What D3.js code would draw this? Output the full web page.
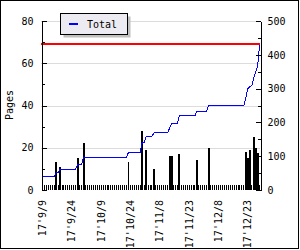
<!DOCTYPE html>
<html>
<head>
<meta charset="utf-8">
<script src="https://cdn.jsdelivr.net/npm/d3@7"></script>
<style>
body { margin: 0; background: #fff; }
text { font-family: "DejaVu Sans Mono", monospace; font-size: 10px; fill: #000; }
</style>
</head>
<body>
<div id="divbody"></div>
<script>
// pages read per day, 17'9/9 .. 17'12/30
var pages = [
  37,0,0,0,0,0,0,13.4,0,10.9,
  0,0,0,0,0,0,0,0,15.1,0,
  0,22.2,0,0,0,0,0,0,0,0,
  0,0,0,0,0,0,0,0,0,0,
  0,0,0,0,13.4,0,0,0,0,0,
  0,27.9,0,18.9,0,0,0,9.9,0,0,
  0,0,0,0,0,16.1,16.1,0,0,0,
  17,0,0,0,0,0,0,0,0,14.2,
  0,0,0,0,0,19.9,0,0,0,0,
  0,0,0,0,0,0,0,0,0,0,
  0,0,0,0,18.1,15,18.9,0,25.2,19.7,
  17.4,0
];
// running total (right axis)
var totals = [
  39,39,39,39,39,39,39,52,52,62,
  62,62,62,62,62,62,62,62,76,76,
  76,97,97,97,97,97,97,97,97,97,
  97,97,97,97,97,97,97,97,97,97,
  97,97,97,97,112,112,112,112,112,112,
  112,140,140,159,159,159,159,169,169,169,
  169,169,169,169,169,183,197,197,197,197,
  220,220,220,220,220,220,220,220,220,233,
  233,233,233,233,233,251,251,251,251,251,
  251,251,251,251,251,251,251,251,251,251,
  251,251,251,251,272,300,306,308,330,348,
  365,429
];
var goal = 432;
var tickDays = [0, 15, 30, 45, 60, 75, 90, 105];
var tickLabels = ["17'9/9", "17'9/24", "17'10/9", "17'10/24", "17'11/8", "17'11/23", "17'12/8", "17'12/23"];
var legendLabel = "Total";

var width = 300, height = 250;
var pLeft = 41, pRight = 260, pTop = 21, pBottom = 190;

var svg = d3.select("#divbody").append("svg")
  .attr("width", width)
  .attr("height", height);

svg.append("rect")
  .attr("width", width).attr("height", height)
  .attr("fill", "#fff");

var x = d3.scaleBand()
  .domain(d3.range(pages.length))
  .range([pLeft + 0.5, pRight + 0.5])
  .padding(0);
var yL = d3.scaleLinear().domain([0, 80]).range([pBottom, pTop]);
var yR = d3.scaleLinear().domain([0, 500]).range([pBottom, pTop]);

// grid
svg.append("g")
  .attr("transform", "translate(" + pLeft + ",0)")
  .attr("shape-rendering", "crispEdges")
  .call(d3.axisLeft(yL).tickValues([20, 40, 60, 80]).tickSize(-(pRight - pLeft)).tickFormat(""))
  .call(function(g) { g.select(".domain").remove(); })
  .selectAll("line").attr("stroke", "#dcdcdc");

// day ticks along the bottom
svg.append("g")
  .attr("transform", "translate(0," + pBottom + ")")
  .attr("shape-rendering", "crispEdges")
  .call(d3.axisBottom(x).tickSize(-5).tickFormat("").tickSizeOuter(0))
  .call(function(g) { g.select(".domain").remove(); });

svg.append("g")
  .attr("shape-rendering", "crispEdges")
  .selectAll("rect")
  .data(pages.map(function(d, i) { return {i: i, v: d}; }).filter(function(d) { return d.v > 0; }))
  .enter()
  .append("rect")
  .attr("x", function(d) { return x(d.i); })
  .attr("y", function(d) { return yL(d.v); })
  .attr("width", x.bandwidth())
  .attr("height", function(d) { return yL(0) - yL(d.v); })
  .attr("fill", "#000");

// goal line
svg.append("line")
  .attr("x1", pLeft).attr("x2", pRight)
  .attr("y1", yR(goal)).attr("y2", yR(goal))
  .attr("stroke", "#ff0000").attr("stroke-width", 2);

var line = d3.line()
  .x(function(d, i) { return x(i) + x.bandwidth() / 2; })
  .y(function(d) { return yR(d); });

svg.append("path")
  .datum(totals)
  .attr("d", line)
  .attr("fill", "none")
  .attr("stroke", "#0000ff")
  .attr("stroke-width", 1)
  .attr("shape-rendering", "crispEdges");

// left axis
var gl = svg.append("g")
  .attr("transform", "translate(" + (pLeft + 0.5) + ",0)")
  .attr("shape-rendering", "crispEdges");
gl.call(d3.axisLeft(yL).tickValues([0, 20, 40, 60, 80]).tickSize(-5).tickSizeOuter(0).tickPadding(8));
gl.append("g").call(d3.axisLeft(yL).tickValues([10, 30, 50, 70]).tickSize(-3).tickFormat("").tickSizeOuter(0))
  .select(".domain").remove();

// right axis
var gr = svg.append("g")
  .attr("transform", "translate(" + (pRight + 0.5) + ",0)")
  .attr("shape-rendering", "crispEdges");
gr.call(d3.axisRight(yR).tickValues([0, 100, 200, 300, 400, 500]).tickSize(-5).tickSizeOuter(0).tickPadding(7));
gr.append("g").call(d3.axisRight(yR).tickValues([50, 150, 250, 350, 450]).tickSize(-3).tickFormat("").tickSizeOuter(0))
  .select(".domain").remove();

// date labels
var gx = svg.append("g")
  .attr("transform", "translate(0," + pBottom + ")")
  .call(d3.axisBottom(x).tickValues(tickDays).tickSize(0).tickFormat(function(d) { return tickLabels[tickDays.indexOf(d)]; }));
gx.select(".domain").remove();
gx.selectAll("text")
  .attr("transform", "rotate(-90)")
  .attr("text-anchor", "end")
  .attr("x", -10)
  .attr("y", 0)
  .attr("dy", "0.35em");

svg.selectAll(".tick text")
  .attr("font-size", 10)
  .attr("font-family", "DejaVu Sans Mono");

svg.append("text")
  .attr("transform", "translate(13,105) rotate(-90)")
  .attr("text-anchor", "middle")
  .text("Pages");

// legend
svg.append("rect")
  .attr("x", 63.5).attr("y", 16.5).attr("width", 67).attr("height", 21)
  .attr("fill", "#c0c0c0");
svg.append("rect")
  .attr("x", 60.5).attr("y", 13.5).attr("width", 67).attr("height", 21)
  .attr("fill", "#ecebf1").attr("stroke", "#000");
svg.append("line")
  .attr("x1", 69).attr("x2", 78).attr("y1", 24).attr("y2", 24)
  .attr("stroke", "#0000ff").attr("stroke-width", 2);
svg.append("text")
  .attr("x", 87).attr("y", 27.5)
  .text(legendLabel);

// frame
svg.append("rect")
  .attr("x", 0.5).attr("y", 0.5).attr("width", 298).attr("height", 248)
  .attr("fill", "none").attr("stroke", "#000");
</script>
</body>
</html>
